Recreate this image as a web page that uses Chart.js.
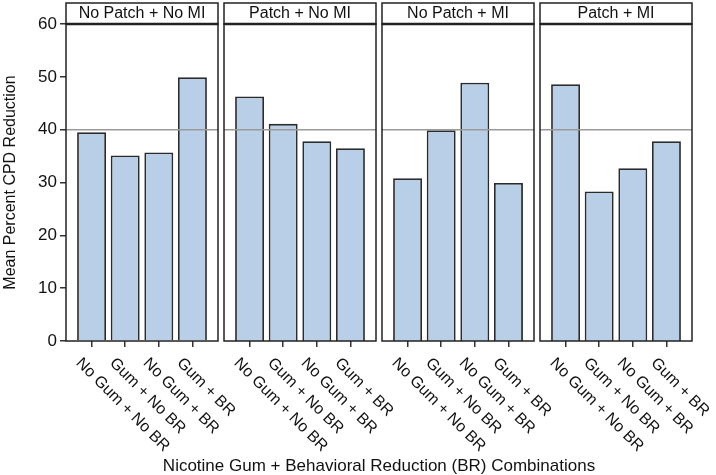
<!DOCTYPE html>
<html>
<head>
<meta charset="utf-8">
<script src="https://cdn.jsdelivr.net/npm/chart.js@4"></script>
<style>
  body { margin: 0; background: #fff; }
  #wrap { position: relative; width: 716px; height: 475px; font-family: 'Liberation Sans', Arial, sans-serif; }
  #wrap canvas { position: absolute; top: 0; }
  #xtitle { position: absolute; left: 66px; width: 626px; top: 456px; text-align: center; font-size: 17px; color: #111; }
</style>
</head>
<body>
<div id="wrap">
  <canvas id="p0" width="278" height="475" style="left:0px"></canvas>
  <canvas id="p1" width="222" height="475" style="left:214px"></canvas>
  <canvas id="p2" width="222" height="475" style="left:372px"></canvas>
  <canvas id="p3" width="222" height="475" style="left:530px"></canvas>
  <div id="xtitle">Nicotine Gum + Behavioral Reduction (BR) Combinations</div>
</div>
<script>
// panels and categories
var panelTitles = ['No Patch + No MI', 'Patch + No MI', 'No Patch + MI', 'Patch + MI'];
var combos = ['No Gum + No BR', 'Gum + No BR', 'No Gum + BR', 'Gum + BR'];

// mean percent CPD reduction
var noPatchNoMI = [39.5, 35.1, 35.7, 49.9];
var patchNoMI = [46.3, 41.1, 37.8, 36.5];
var noPatchMI = [30.8, 39.9, 48.9, 29.9];
var patchMI = [48.6, 28.3, 32.7, 37.8];
var panelValues = [noPatchNoMI, patchNoMI, noPatchMI, patchMI];

var yTicks = [0, 10, 20, 30, 40, 50, 60];
var refValue = 40;

var FONT = "'Liberation Sans', Arial, sans-serif";
Chart.defaults.font.family = FONT;
Chart.defaults.font.size = 16;
Chart.defaults.color = '#111';

var panelPlugin = {
  id: 'panel',
  afterDatasetsDraw: function(chart) {
    var ctx = chart.ctx, a = chart.chartArea;
    var y = chart.scales.y.getPixelForValue(refValue);
    ctx.save();
    ctx.strokeStyle = '#9a9a9a';
    ctx.lineWidth = 1.5;
    ctx.beginPath();
    ctx.moveTo(a.left, y);
    ctx.lineTo(a.right, y);
    ctx.stroke();
    ctx.restore();
  },
  afterDraw: function(chart, args, opts) {
    var ctx = chart.ctx, a = chart.chartArea;
    ctx.save();
    // panel frame
    ctx.strokeStyle = '#222';
    ctx.lineWidth = 1.5;
    ctx.strokeRect(a.left, a.top, a.right - a.left, a.bottom - a.top);
    // header strip
    ctx.strokeRect(a.left, 3, a.right - a.left, a.top - 3);
    ctx.lineWidth = 2.5;
    ctx.beginPath();
    ctx.moveTo(a.left, a.top);
    ctx.lineTo(a.right, a.top);
    ctx.stroke();
    ctx.fillStyle = '#111';
    ctx.font = '16px ' + FONT;
    ctx.textAlign = 'center';
    ctx.textBaseline = 'middle';
    ctx.fillText(opts.title, (a.left + a.right) / 2, 13.5);
    // rotated category labels
    var xs = chart.scales.x;
    ctx.textAlign = 'left';
    ctx.textBaseline = 'top';
    combos.forEach(function(c, i) {
      ctx.save();
      ctx.translate(xs.getPixelForValue(i) - 7.5, a.bottom + 14);
      ctx.rotate(Math.PI / 4);
      ctx.fillText(c, 0, 0);
      ctx.restore();
    });
    ctx.restore();
  }
};

panelValues.forEach(function(vals, p) {
  var first = p === 0;
  new Chart(document.getElementById('p' + p), {
    type: 'bar',
    data: {
      datasets: [{
        data: vals.map(function(v, i) { return { x: i, y: v }; }),
        backgroundColor: '#b9cfe8',
        borderColor: '#2b2b2b',
        borderWidth: 1.8,
        barPercentage: 0.86,
        categoryPercentage: 1
      }]
    },
    options: {
      responsive: false,
      animation: false,
      layout: { padding: { top: 24, left: first ? 0 : 10, right: 60, bottom: 0 } },
      plugins: {
        legend: { display: false },
        tooltip: { enabled: false },
        panel: { title: panelTitles[p] }
      },
      scales: {
        x: {
          type: 'linear',
          offset: false,
          min: -0.76,
          max: 3.76,
          afterBuildTicks: function(s) { s.ticks = combos.map(function(c, i) { return { value: i }; }); },
          afterFit: function(s) { s.height = 134; },
          ticks: { display: false },
          border: { display: false },
          grid: { offset: false, drawOnChartArea: false, drawTicks: true, tickLength: 6, color: '#333', lineWidth: 1.5 }
        },
        y: {
          display: first,
          min: 0,
          max: 60,
          afterBuildTicks: function(s) { s.ticks = yTicks.map(function(v) { return { value: v }; }); },
          afterFit: function(s) { s.width = first ? 66 : 0; },
          ticks: { padding: 3, color: '#111', font: { size: 17 } },
          border: { display: false },
          grid: { drawOnChartArea: false, drawTicks: true, tickLength: 6, color: '#333', lineWidth: 1.5 },
          title: { display: true, text: 'Mean Percent CPD Reduction', padding: { top: 1, bottom: 0 }, color: '#111' }
        }
      }
    },
    plugins: [panelPlugin]
  });
});
</script>
</body>
</html>
